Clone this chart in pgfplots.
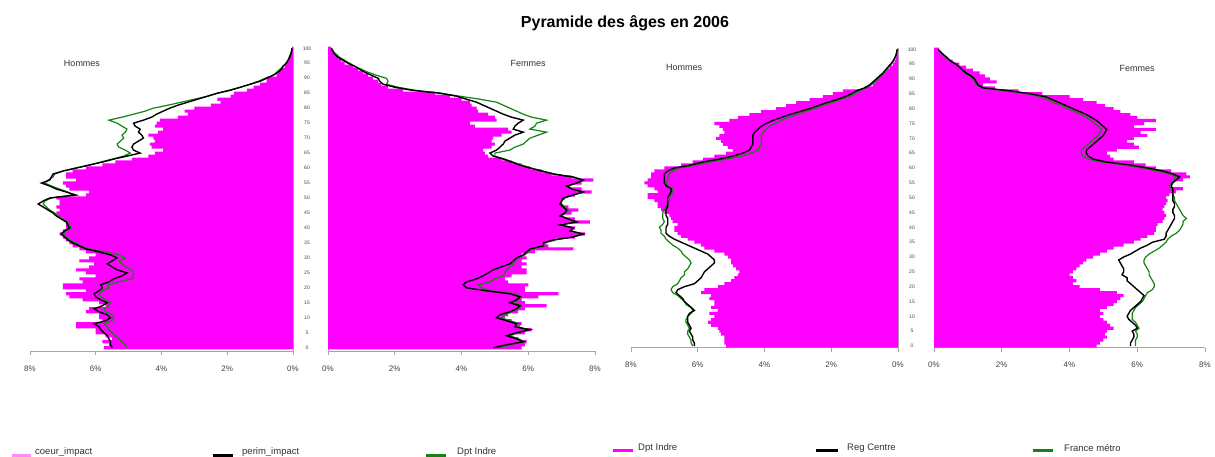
\documentclass[border=0pt]{standalone}
\usepackage{fontspec}
\setmainfont{Liberation Sans}
\usepackage{pgfplots}
\usepackage{pgfplotstable}
\pgfplotsset{compat=1.18}
\definecolor{mag}{RGB}{255,0,255}
\definecolor{grn}{RGB}{20,130,20}

\pgfplotstableread{
age m k g
0 5.75 5.5 5.05
1 5.6 5.55 5.1
2 5.8 5.55 5.2
3 5.5 5.6 5.3
4 5.7 5.65 5.4
5 6.0 5.75 5.5
6 6.0 5.85 5.6
7 6.6 5.9 5.65
8 6.6 6.05 5.75
9 5.8 5.7 5.5
10 5.9 5.55 5.45
11 5.9 5.65 5.5
12 6.3 5.9 5.7
13 6.2 6.05 5.75
14 5.7 5.8 5.6
15 5.9 5.65 5.55
16 6.4 5.85 5.7
17 6.8 6.0 5.85
18 6.9 6.05 5.9
19 6.3 5.9 5.8
20 7.0 5.8 5.6
21 7.0 5.85 5.65
22 6.4 5.6 5.3
23 6.5 5.45 4.9
24 6.0 5.2 4.85
25 6.3 5.05 4.85
26 6.6 5.35 4.9
27 6.2 5.5 5.1
28 6.05 5.65 5.2
29 6.5 5.5 5.3
30 6.2 5.35 5.1
31 6.0 5.55 5.3
32 6.3 5.9 5.7
33 6.5 6.3 6.2
34 6.7 6.5 6.45
35 6.8 6.7 6.6
36 6.9 6.85 6.8
37 7.0 6.95 6.9
38 7.1 7.05 7.0
39 7.0 6.95 6.9
40 6.9 6.8 6.75
41 6.9 6.85 6.8
42 6.9 6.9 6.85
43 7.0 7.05 7.0
44 7.15 7.2 7.15
45 7.2 7.3 7.25
46 7.1 7.45 7.4
47 7.2 7.6 7.5
48 7.1 7.75 7.6
49 7.1 7.6 7.55
50 7.2 7.4 7.35
51 6.3 6.6 6.7
52 6.2 6.9 6.85
53 6.8 7.2 7.1
54 6.9 7.4 7.35
55 7.0 7.65 7.55
56 6.6 7.4 7.45
57 6.9 7.35 7.3
58 6.9 7.3 7.25
59 6.7 7.0 7.0
60 6.3 6.6 6.6
61 5.8 6.2 6.2
62 5.4 5.8 5.85
63 4.9 5.45 5.5
64 4.4 5.05 5.15
65 4.2 4.65 4.95
66 3.95 4.85 5.1
67 4.3 4.9 5.3
68 4.35 4.85 5.35
69 4.2 4.7 5.25
70 4.25 4.55 5.15
71 4.4 4.6 5.2
72 4.1 4.7 5.1
73 3.95 4.65 5.05
74 4.2 4.8 5.2
75 4.15 4.85 5.35
76 4.05 4.55 5.6
77 3.5 4.3 5.2
78 3.2 4.15 4.85
79 3.3 3.95 4.5
80 3.0 3.75 4.25
81 2.5 3.5 3.8
82 2.2 3.2 3.4
83 2.3 2.9 3.0
84 1.9 2.6 2.6
85 1.8 2.3 2.3
86 1.4 1.9 1.95
87 1.2 1.6 1.6
88 1.0 1.3 1.3
89 0.8 1.0 1.05
90 0.8 0.8 0.85
91 0.5 0.6 0.6
92 0.45 0.45 0.5
93 0.35 0.35 0.4
94 0.25 0.3 0.3
95 0.2 0.2 0.22
96 0.15 0.15 0.15
97 0.1 0.1 0.12
98 0.05 0.06 0.08
99 0.03 0.04 0.05
100 0.03 0.03 0.04
}\tA

\pgfplotstableread{
age m k g
0 5.8 4.95 5.1
1 5.9 5.35 5.5
2 5.95 5.85 5.9
3 5.7 5.65 5.7
4 5.4 5.35 5.45
5 5.9 5.65 5.7
6 6.1 6.05 6.0
7 5.7 5.6 5.7
8 5.8 5.65 5.75
9 5.5 5.35 5.45
10 5.3 5.05 5.2
11 5.4 5.15 5.3
12 5.7 5.45 5.5
13 5.9 5.65 5.7
14 6.55 5.75 5.8
15 5.9 5.45 5.6
16 5.8 5.65 5.7
17 6.3 5.75 5.8
18 6.9 5.45 5.6
19 5.9 4.75 4.9
20 5.9 4.15 4.6
21 6.0 4.05 4.5
22 5.4 4.15 4.85
23 5.3 4.45 5.0
24 5.5 4.65 5.25
25 5.95 4.8 5.3
26 5.95 4.95 5.35
27 5.8 5.2 5.45
28 5.95 5.45 5.55
29 5.8 5.55 5.6
30 5.95 5.65 5.7
31 5.8 5.85 5.9
32 6.2 5.95 6.0
33 7.35 6.05 6.1
34 6.6 6.45 6.5
35 6.5 6.45 6.5
36 6.8 6.75 6.8
37 7.4 7.35 7.35
38 7.7 7.65 7.6
39 7.3 7.25 7.3
40 7.4 7.35 7.35
41 7.0 6.95 7.0
42 7.85 7.45 7.45
43 7.4 7.2 7.2
44 7.0 6.95 7.0
45 7.3 7.1 7.1
46 7.5 7.15 7.2
47 7.2 7.05 7.1
48 6.95 6.95 7.0
49 7.0 7.0 7.0
50 7.1 7.05 7.1
51 7.4 7.35 7.35
52 7.9 7.65 7.6
53 7.6 7.3 7.3
54 7.2 7.15 7.2
55 7.6 7.45 7.45
56 7.95 7.65 7.6
57 7.3 7.35 7.35
58 6.7 6.75 6.8
59 6.4 6.4 6.45
60 6.05 6.05 6.1
61 5.8 5.75 5.8
62 5.5 5.5 5.55
63 5.2 5.25 5.3
64 4.8 4.95 5.0
65 4.7 4.85 5.0
66 4.65 5.05 5.45
67 4.9 5.15 5.6
68 5.0 5.25 5.85
69 4.9 5.3 5.95
70 4.95 5.45 6.05
71 5.2 5.6 6.3
72 5.5 5.85 6.55
73 5.4 5.55 6.05
74 4.4 5.6 6.2
75 4.25 5.7 6.25
76 5.05 5.85 6.55
77 5.0 5.5 6.1
78 4.8 5.25 5.85
79 4.5 5.05 5.65
80 4.45 4.85 5.45
81 4.3 4.65 5.25
82 4.25 4.45 5.05
83 4.0 4.15 4.55
84 3.65 3.85 3.95
85 3.2 3.35 3.4
86 2.25 2.5 2.6
87 1.8 2.0 2.1
88 1.6 1.65 1.75
89 1.5 1.55 1.8
90 1.35 1.5 1.75
91 1.2 1.3 1.45
92 1.05 1.1 1.2
93 0.9 0.95 1.0
94 0.75 0.8 0.8
95 0.5 0.6 0.65
96 0.4 0.45 0.5
97 0.3 0.3 0.35
98 0.2 0.2 0.25
99 0.15 0.15 0.15
100 0.1 0.1 0.1
}\tB

\pgfplotstableread{
age m k g
0 5.15 6.1 6.15
1 5.2 6.1 6.2
2 5.2 6.15 6.2
3 5.2 6.15 6.25
4 5.3 6.2 6.3
5 5.35 6.25 6.3
6 5.4 6.2 6.25
7 5.6 6.25 6.3
8 5.7 6.3 6.35
9 5.6 6.3 6.35
10 5.5 6.3 6.3
11 5.65 6.25 6.2
12 5.4 6.1 6.15
13 5.6 6.2 6.2
14 5.5 6.3 6.35
15 5.5 6.4 6.4
16 5.65 6.45 6.5
17 5.6 6.55 6.6
18 5.9 6.65 6.75
19 5.8 6.6 6.8
20 5.4 6.4 6.75
21 5.2 6.1 6.6
22 5.0 6.0 6.55
23 4.9 5.9 6.5
24 4.8 5.85 6.4
25 4.75 5.8 6.4
26 4.85 5.7 6.3
27 4.95 5.6 6.25
28 5.0 5.5 6.2
29 5.0 5.5 6.25
30 5.1 5.6 6.35
31 5.2 5.7 6.45
32 5.5 5.9 6.5
33 5.8 6.1 6.6
34 5.9 6.3 6.75
35 6.1 6.5 6.85
36 6.3 6.7 6.95
37 6.5 6.85 7.0
38 6.6 6.95 7.1
39 6.7 6.95 7.1
40 6.7 6.95 7.15
41 6.6 6.9 7.05
42 6.75 6.9 7.0
43 6.8 6.9 7.05
44 6.85 6.95 7.05
45 7.0 6.95 7.05
46 7.1 6.95 7.0
47 7.2 6.9 6.95
48 7.2 6.9 6.9
49 7.3 6.9 6.85
50 7.5 6.9 6.85
51 7.5 6.85 6.8
52 7.2 6.8 6.75
53 7.3 6.8 6.75
54 7.5 6.95 6.9
55 7.6 7.0 6.95
56 7.5 7.0 6.9
57 7.4 7.0 6.9
58 7.4 7.0 6.85
59 7.3 6.9 6.75
60 7.0 6.7 6.55
61 6.5 6.2 6.05
62 6.15 5.85 5.65
63 5.85 5.35 5.15
64 5.5 4.95 4.7
65 5.15 4.65 4.4
66 4.95 4.45 4.2
67 5.1 4.4 4.15
68 5.25 4.35 4.1
69 5.3 4.35 4.1
70 5.45 4.35 4.1
71 5.35 4.35 4.1
72 5.2 4.3 4.05
73 5.25 4.2 3.95
74 5.35 4.1 3.85
75 5.5 3.95 3.7
76 5.05 3.75 3.5
77 4.8 3.5 3.3
78 4.45 3.25 3.05
79 4.1 2.95 2.8
80 3.65 2.65 2.5
81 3.35 2.4 2.25
82 3.05 2.15 2.0
83 2.65 1.85 1.75
84 2.25 1.6 1.5
85 1.95 1.4 1.3
86 1.65 1.25 1.15
87 1.0 1.0 0.95
88 0.75 0.85 0.8
89 0.7 0.75 0.7
90 0.65 0.65 0.6
91 0.55 0.55 0.5
92 0.45 0.45 0.42
93 0.35 0.38 0.35
94 0.25 0.3 0.28
95 0.15 0.22 0.2
96 0.1 0.15 0.14
97 0.06 0.1 0.1
98 0.04 0.06 0.06
99 0.02 0.04 0.04
100 0.01 0.02 0.02
}\tC

\pgfplotstableread{
age m k g
0 4.8 5.8 5.95
1 4.9 5.8 5.95
2 5.0 5.85 5.95
3 5.1 5.9 6.0
4 5.05 5.9 6.0
5 5.1 5.85 5.95
6 5.3 6.0 6.05
7 5.2 5.95 6.0
8 5.1 5.85 5.95
9 5.0 5.75 5.85
10 4.9 5.7 5.85
11 5.0 5.75 5.85
12 4.9 5.8 5.9
13 5.1 5.9 5.95
14 5.3 6.0 6.05
15 5.4 6.1 6.15
16 5.5 6.15 6.2
17 5.6 6.2 6.25
18 5.4 6.1 6.3
19 4.9 6.0 6.45
20 4.3 5.9 6.5
21 4.1 5.8 6.5
22 4.2 5.7 6.45
23 4.1 5.7 6.4
24 4.0 5.55 6.35
25 4.1 5.6 6.35
26 4.2 5.6 6.3
27 4.3 5.55 6.25
28 4.4 5.5 6.2
29 4.5 5.45 6.2
30 4.7 5.6 6.25
31 4.9 5.8 6.35
32 5.1 5.95 6.5
33 5.3 6.1 6.65
34 5.6 6.3 6.75
35 5.9 6.45 6.85
36 6.1 6.8 6.9
37 6.3 6.85 7.0
38 6.5 6.85 7.15
39 6.55 6.9 7.25
40 6.55 6.95 7.3
41 6.6 7.0 7.35
42 6.75 7.05 7.35
43 6.8 7.1 7.45
44 6.85 7.1 7.35
45 6.8 7.05 7.3
46 6.75 7.05 7.25
47 6.8 7.1 7.2
48 6.85 7.1 7.15
49 6.9 7.05 7.1
50 6.85 7.05 7.1
51 6.95 7.05 7.05
52 7.15 7.05 7.05
53 7.35 7.05 7.0
54 6.95 7.0 6.95
55 7.05 7.05 7.0
56 7.35 7.15 7.1
57 7.55 7.25 7.15
58 7.45 7.05 6.95
59 7.0 6.75 6.6
60 6.55 6.3 6.15
61 6.25 5.8 5.65
62 5.9 5.1 4.95
63 5.3 4.7 4.55
64 5.2 4.55 4.4
65 5.1 4.5 4.35
66 5.4 4.5 4.35
67 6.05 4.6 4.45
68 5.9 4.7 4.55
69 5.7 4.8 4.65
70 5.9 4.9 4.75
71 6.3 5.0 4.85
72 6.1 5.05 4.9
73 6.55 5.1 4.95
74 5.9 5.0 4.85
75 6.2 4.9 4.75
76 6.55 4.8 4.65
77 6.0 4.65 4.5
78 5.8 4.5 4.35
79 5.5 4.3 4.15
80 5.3 4.1 3.95
81 5.05 3.9 3.75
82 4.8 3.7 3.55
83 4.4 3.5 3.35
84 4.0 3.3 3.15
85 3.2 2.85 2.75
86 2.5 2.25 2.15
87 1.8 1.45 1.4
88 1.45 1.3 1.25
89 1.85 1.25 1.2
90 1.65 1.2 1.15
91 1.5 1.1 1.05
92 1.35 0.95 0.9
93 1.15 0.85 0.82
94 0.95 0.75 0.72
95 0.75 0.65 0.62
96 0.55 0.5 0.48
97 0.4 0.4 0.38
98 0.3 0.3 0.28
99 0.2 0.2 0.2
100 0.15 0.12 0.12
}\tD

\pgfplotsset{
  pyr/.style={
    scale only axis,
    xmin=0, xmax=8,
    axis x line*=bottom,
    xtick={0,2,4,6,8},
    tick align=outside,
    major tick length=4pt,
    x tick style={gray!70, line width=0.6pt},
    y tick style={draw=none},
    axis line style={gray!70, line width=0.8pt},
    xticklabel style={font=\fontsize{8}{9}\selectfont, text=black!75, yshift=-7pt},
    /pgf/number format/assume math mode=true,
  },
  agelab/.style={
    ytick={0,5,...,100},
    yticklabels={0,5,10,15,20,25,30,35,40,45,50,55,60,65,70,75,80,85,90,95,100},
    yticklabel style={font=\fontsize{5}{6}\selectfont, text=black!75, anchor=center, xshift=#1},
  },
  bars/.style={xbar, bar shift=0pt, bar width=#1, fill=mag, draw=none},
  kline/.style={black, line width=1.4pt},
  gline/.style={grn, line width=1.2pt},
}

\begin{document}
\begin{tikzpicture}
\useasboundingbox (0pt,0pt) rectangle (1215pt,456pt);

% ---------- left pyramid ----------
\begin{axis}[pyr, at={(30pt,104.7pt)}, anchor=south west,
  width=263pt, height=304.8pt, ymin=-1.2, ymax=100.6,
  x dir=reverse, axis y line*=right, ytick=\empty,
  xticklabels={0\%,2\%,4\%,6\%,8\%}]
  \addplot[bars=3.15pt] table[x=m, y=age] {\tA};
  \addplot[gline] table[x=g, y=age] {\tA};
  \addplot[kline] table[x=k, y=age] {\tA};
\end{axis}

\begin{axis}[pyr, at={(328pt,104.7pt)}, anchor=south west,
  width=267pt, height=304.8pt, ymin=-1.2, ymax=100.6,
  axis y line*=left, agelab=-17pt,
  xticklabels={0\%,2\%,4\%,6\%,8\%}]
  \addplot[bars=3.15pt] table[x=m, y=age] {\tB};
  \addplot[gline] table[x=g, y=age] {\tB};
  \addplot[kline] table[x=k, y=age] {\tB};
\end{axis}

% ---------- right pyramid ----------
\begin{axis}[pyr, at={(631pt,108.5pt)}, anchor=south west,
  width=267pt, height=299.7pt, ymin=-0.5, ymax=100.5,
  x dir=reverse, axis y line*=right, ytick=\empty,
  xticklabels={0\%,2\%,4\%,6\%,8\%}]
  \addplot[bars=3.1pt] table[x=m, y=age] {\tC};
  \addplot[gline] table[x=g, y=age] {\tC};
  \addplot[kline] table[x=k, y=age] {\tC};
\end{axis}

\begin{axis}[pyr, at={(934pt,108.5pt)}, anchor=south west,
  width=271pt, height=299.7pt, ymin=-0.5, ymax=100.5,
  axis y line*=left, agelab=-18pt,
  xticklabels={0\%,2\%,4\%,6\%,8\%}]
  \addplot[bars=3.1pt] table[x=m, y=age] {\tD};
  \addplot[gline] table[x=g, y=age] {\tD};
  \addplot[kline] table[x=k, y=age] {\tD};
\end{axis}

% ---------- texts ----------
\node[font=\bfseries\fontsize{16}{19}\selectfont] at (625pt,433pt) {Pyramide des âges en 2006};
\node[font=\fontsize{9}{10}\selectfont, text=black!80] at (82pt,393pt) {Hommes};
\node[font=\fontsize{9}{10}\selectfont, text=black!80] at (528pt,393pt) {Femmes};
\node[font=\fontsize{9}{10}\selectfont, text=black!80] at (684pt,389pt) {Hommes};
\node[font=\fontsize{9}{10}\selectfont, text=black!80] at (1137pt,388pt) {Femmes};

% ---------- legends ----------
\begin{scope}[every node/.style={font=\fontsize{9.5}{10}\selectfont, anchor=west, inner sep=0pt, text=black!80}]
\draw[mag!45, line width=3pt] (12pt,1pt) -- (31pt,1pt);
\node at (35pt,4pt) {coeur\_impact};
\draw[black, line width=3pt] (213pt,1pt) -- (233pt,1pt);
\node at (242pt,4pt) {perim\_impact};
\draw[grn, line width=3pt] (426pt,1pt) -- (446pt,1pt);
\node at (457pt,4pt) {Dpt Indre};

\draw[mag, line width=3pt] (613pt,6pt) -- (633pt,6pt);
\node at (638pt,8pt) {Dpt Indre};
\draw[black, line width=3pt] (816pt,6pt) -- (838pt,6pt);
\node at (847pt,8pt) {Reg Centre};
\draw[grn, line width=3pt] (1033pt,6pt) -- (1053pt,6pt);
\node at (1064pt,8pt) {France métro};
\end{scope}
\end{tikzpicture}
\end{document}
